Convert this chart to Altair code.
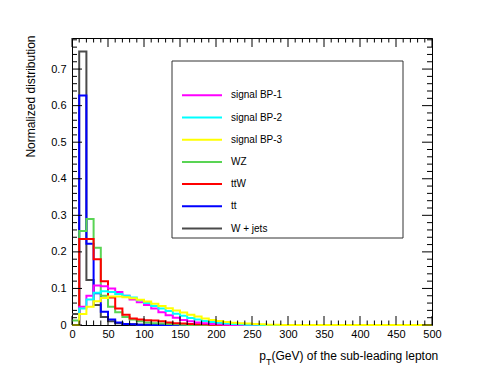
import altair as alt
import pandas as pd

# ---- data (10 GeV bins, left edges 0..490) ----
bin_left = [0, 10, 20, 30, 40, 50, 60, 70, 80, 90,
            100, 110, 120, 130, 140, 150, 160, 170, 180, 190,
            200, 210, 220, 230, 240, 250, 260, 270, 280, 290,
            300, 310, 320, 330, 340, 350, 360, 370, 380, 390,
            400, 410, 420, 430, 440, 450, 460, 470, 480, 490]
x_end = 500

series_names = ["signal BP-1", "signal BP-2", "signal BP-3", "WZ", "ttW", "tt", "W + jets"]
series_colors = ["#ff00ff", "#00ffff", "#ffff00", "#59d454", "#ff0000", "#0000ff", "#4a4a4a"]
draw_order = ["W + jets", "tt", "WZ", "ttW", "signal BP-1", "signal BP-2", "signal BP-3"]

bp1 = [0.0, 0.050, 0.080, 0.108, 0.106, 0.100, 0.090, 0.080, 0.070, 0.062,
       0.055, 0.045, 0.035, 0.027, 0.020, 0.014, 0.010, 0.007, 0.005, 0.003,
       0.002, 0.001, 0.0, 0.0, 0.0, 0.0, 0.0, 0.0, 0.0, 0.0,
       0.0, 0.0, 0.0, 0.0, 0.0, 0.0, 0.0, 0.0, 0.0, 0.0,
       0.0, 0.0, 0.0, 0.0, 0.0, 0.0, 0.0, 0.0, 0.0, 0.0]
bp2 = [0.0, 0.045, 0.070, 0.088, 0.092, 0.090, 0.085, 0.080, 0.075, 0.068,
       0.060, 0.052, 0.045, 0.038, 0.031, 0.025, 0.019, 0.015, 0.011, 0.008,
       0.006, 0.004, 0.003, 0.002, 0.001, 0.001, 0.0, 0.0, 0.0, 0.0,
       0.0, 0.0, 0.0, 0.0, 0.0, 0.0, 0.0, 0.0, 0.0, 0.0,
       0.0, 0.0, 0.0, 0.0, 0.0, 0.0, 0.0, 0.0, 0.0, 0.0]
bp3 = [0.0, 0.030, 0.050, 0.065, 0.074, 0.078, 0.078, 0.076, 0.073, 0.069,
       0.064, 0.058, 0.052, 0.046, 0.040, 0.034, 0.028, 0.023, 0.018, 0.014,
       0.011, 0.008, 0.006, 0.005, 0.004, 0.003, 0.002, 0.001, 0.001, 0.0,
       0.0, 0.0, 0.0, 0.0, 0.0, 0.0, 0.0, 0.0, 0.0, 0.0,
       0.0, 0.0, 0.0, 0.0, 0.0, 0.0, 0.0, 0.0, 0.0, 0.0]
wz = [0.012, 0.257, 0.290, 0.211, 0.080, 0.050, 0.035, 0.022, 0.015, 0.010,
      0.007, 0.005, 0.004, 0.003, 0.002, 0.001, 0.0, 0.0, 0.0, 0.0,
      0.0, 0.0, 0.0, 0.0, 0.0, 0.0, 0.0, 0.0, 0.0, 0.0,
      0.0, 0.0, 0.0, 0.0, 0.0, 0.0, 0.0, 0.0, 0.0, 0.0,
      0.0, 0.0, 0.0, 0.0, 0.0, 0.0, 0.0, 0.0, 0.0, 0.0]
ttw = [0.0, 0.235, 0.235, 0.180, 0.120, 0.075, 0.045, 0.028, 0.018, 0.015,
       0.013, 0.012, 0.010, 0.007, 0.005, 0.004, 0.003, 0.002, 0.002, 0.001,
       0.001, 0.0, 0.0, 0.0, 0.0, 0.0, 0.0, 0.0, 0.0, 0.0,
       0.0, 0.0, 0.0, 0.0, 0.0, 0.0, 0.0, 0.0, 0.0, 0.0,
       0.0, 0.0, 0.0, 0.0, 0.0, 0.0, 0.0, 0.0, 0.0, 0.0]
tt = [0.0, 0.628, 0.222, 0.087, 0.036, 0.015, 0.007, 0.003, 0.002, 0.001,
      0.001, 0.0, 0.0, 0.0, 0.0, 0.0, 0.0, 0.0, 0.0, 0.0,
      0.0, 0.0, 0.0, 0.0, 0.0, 0.0, 0.0, 0.0, 0.0, 0.0,
      0.0, 0.0, 0.0, 0.0, 0.0, 0.0, 0.0, 0.0, 0.0, 0.0,
      0.0, 0.0, 0.0, 0.0, 0.0, 0.0, 0.0, 0.0, 0.0, 0.0]
wjets = [0.030, 0.748, 0.123, 0.055, 0.022, 0.010, 0.005, 0.003, 0.002, 0.001,
         0.001, 0.0, 0.0, 0.0, 0.0, 0.0, 0.0, 0.0, 0.0, 0.0,
         0.0, 0.0, 0.0, 0.0, 0.0, 0.0, 0.0, 0.0, 0.0, 0.0,
         0.0, 0.0, 0.0, 0.0, 0.0, 0.0, 0.0, 0.0, 0.0, 0.0,
         0.0, 0.0, 0.0, 0.0, 0.0, 0.0, 0.0, 0.0, 0.0, 0.0]

series_values = {"signal BP-1": bp1, "signal BP-2": bp2, "signal BP-3": bp3,
                 "WZ": wz, "ttW": ttw, "tt": tt, "W + jets": wjets}

x_major = [0, 50, 100, 150, 200, 250, 300, 350, 400, 450, 500]
x_minor = [v for v in range(0, 501, 10) if v % 50 != 0]
y_major = [0, 0.1, 0.2, 0.3, 0.4, 0.5, 0.6, 0.7]
y_minor = [round(k * 0.02, 2) for k in range(0, 40) if k % 5 != 0]

x_title_main = "(GeV) of the sub-leading lepton"
y_title = "Normalized distribution"

# ---- build tables ----
rows = []
for name in draw_order:
    vals = series_values[name]
    for e, v in zip(bin_left, vals):
        rows.append({"series": name, "x": e, "y": v})
    rows.append({"series": name, "x": x_end, "y": vals[-1]})
df = pd.DataFrame(rows)

W, H = 360, 287
FONT = "Liberation Sans"
xscale = alt.Scale(domain=[0, 500], nice=False, zero=False)
yscale = alt.Scale(domain=[0, 0.785], nice=False)
cscale = alt.Scale(domain=series_names, range=series_colors)

xaxis = alt.Axis(values=x_major, ticks=False, domain=False, grid=False,
                 labelFont=FONT, labelFontSize=11, labelColor="black",
                 labelPadding=3, title=None, labelFlush=False)
yaxis = alt.Axis(values=y_major, format="~g", ticks=False, domain=False, grid=False,
                 labelFont=FONT, labelFontSize=11, labelColor="black",
                 labelPadding=6, title=y_title, titleFont=FONT,
                 titleFontSize=12, titleFontWeight="normal", titleColor="black",
                 titleAngle=270, titleAlign="right", titleBaseline="middle",
                 titleX=-42, titleY=-3, labelFlush=False)
# wide, short line symbol: path spans 8 units, size 100 -> 40 px long, 10 px entry
legend = alt.Legend(orient="none", legendX=124, legendY=51.3, title=None,
                    symbolType="M-4,0H4", symbolSize=100,
                    symbolStrokeWidth=2, labelFont=FONT,
                    labelFontSize=10, labelColor="black",
                    labelOffset=23, rowPadding=11.2, padding=0)

layers = []
for name in draw_order:
    layers.append(
        alt.Chart(df).transform_filter(alt.datum.series == name)
        .mark_line(interpolate="step-after", strokeWidth=2)
        .encode(
            x=alt.X("x:Q", scale=xscale, axis=xaxis),
            y=alt.Y("y:Q", scale=yscale, axis=yaxis),
            color=alt.Color("series:N", scale=cscale, legend=legend),
        )
    )

xt_major = pd.DataFrame({"x": x_major})
xt_minor = pd.DataFrame({"x": x_minor})
yt_major = pd.DataFrame({"y": y_major})
yt_minor = pd.DataFrame({"y": y_minor})

def xticks(d, ln):
    a = alt.Chart(d).mark_rule(color="black", strokeWidth=1).encode(
        x=alt.X("x:Q", scale=xscale, axis=xaxis), y=alt.value(H), y2=alt.value(H - ln))
    b = alt.Chart(d).mark_rule(color="black", strokeWidth=1).encode(
        x=alt.X("x:Q", scale=xscale, axis=xaxis), y=alt.value(0), y2=alt.value(ln))
    return [a, b]

def yticks(d, ln):
    a = alt.Chart(d).mark_rule(color="black", strokeWidth=1).encode(
        y=alt.Y("y:Q", scale=yscale, axis=yaxis), x=alt.value(0), x2=alt.value(ln))
    b = alt.Chart(d).mark_rule(color="black", strokeWidth=1).encode(
        y=alt.Y("y:Q", scale=yscale, axis=yaxis), x=alt.value(W), x2=alt.value(W - ln))
    return [a, b]

tick_layers = xticks(xt_major, 9) + xticks(xt_minor, 4.5) + yticks(yt_major, 10) + yticks(yt_minor, 5)

one = alt.Data(values=[{"k": 1}])
legend_box = alt.Chart(one).mark_rect(fill="white", fillOpacity=0, stroke="#333333", strokeWidth=1).encode(
    x=alt.value(100), x2=alt.value(331), y=alt.value(23), y2=alt.value(200))

t_p = alt.Chart(one).mark_text(font=FONT, fontSize=12, align="right", baseline="alphabetic", color="black").encode(
    x=alt.value(194), y=alt.value(321.5), text=alt.value("p"))
t_T = alt.Chart(one).mark_text(font=FONT, fontSize=9, align="left", baseline="alphabetic", color="black").encode(
    x=alt.value(194), y=alt.value(326.5), text=alt.value("T"))
t_main = alt.Chart(one).mark_text(font=FONT, fontSize=12, align="left", baseline="alphabetic", color="black").encode(
    x=alt.value(199.5), y=alt.value(321.5), text=alt.value(x_title_main))

chart = alt.layer(*layers, *tick_layers, legend_box, t_p, t_T, t_main).properties(
    width=W, height=H,
    autosize=alt.AutoSizeParams(type="none"),
    padding={"left": 64, "top": 30, "right": 40, "bottom": 49},
    background="white",
).configure_view(stroke="black", strokeWidth=1)

chart.save("out.html", embed_options={"renderer": "svg", "actions": False})
